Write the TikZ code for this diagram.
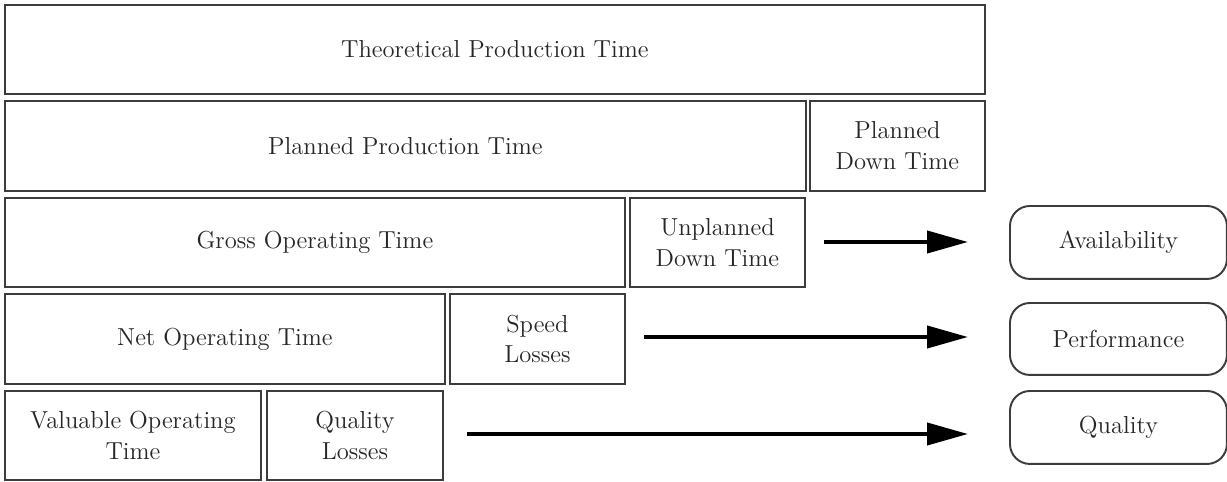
\documentclass[tikz,border=0pt]{standalone}
\usepackage{tikz}
\usetikzlibrary{positioning,arrows.meta}
\definecolor{Frame}{HTML}{3C3C3C}
\definecolor{Ink}{HTML}{262626}

\tikzset{
  timebox/.style={draw=Frame,line width=1.1pt,anchor=north west,align=center,text=Ink,
    inner sep=0pt,font=\fontsize{14}{17.6}\selectfont},
  ratebox/.style={timebox,rounded corners=0.4cm},
  lossarrow/.style={black,line width=2.3pt,-{Triangle[length=0.82cm,width=0.44cm]},shorten >=0.82cm}
}

\begin{document}
\begin{tikzpicture}[x=0.02cm,y=-0.02cm]
        \useasboundingbox (0,0) rectangle (1227,481);
        \node[timebox,minimum width=19.6cm,minimum height=1.78cm] (theo) at (4,4) {Theoretical Production Time};
        \node[timebox,minimum width=16.02cm,minimum height=1.8cm] (planned) at (4,100) {Planned Production Time};
        \node[timebox,minimum width=3.5cm,minimum height=1.8cm] (planneddown) at (809,100) {Planned\\Down Time};
        \node[timebox,minimum width=12.4cm,minimum height=1.78cm] (gross) at (4,197) {Gross Operating Time};
        \node[timebox,minimum width=3.5cm,minimum height=1.78cm] (unplanned) at (629,197) {Unplanned\\Down Time};
        \node[timebox,minimum width=8.8cm,minimum height=1.8cm] (net) at (4,293) {Net Operating Time};
        \node[timebox,minimum width=3.5cm,minimum height=1.8cm] (speed) at (449,293) {Speed\\Losses};
        \node[timebox,minimum width=5.12cm,minimum height=1.78cm] (valuable) at (4,390) {Valuable Operating\\Time};
        \node[timebox,minimum width=3.52cm,minimum height=1.78cm] (qualityloss) at (266,390) {Quality\\Losses};
        \node[ratebox,minimum width=4.34cm,minimum height=1.46cm] (avail) at (1009,205) {Availability};
        \node[ratebox,minimum width=4.34cm,minimum height=1.44cm] (perf) at (1009,302) {Performance};
        \node[ratebox,minimum width=4.34cm,minimum height=1.46cm] (qual) at (1009,390) {Quality};
        \coordinate (a1) at (824,242);
        \coordinate (a2) at (644,337);
        \coordinate (a3) at (467,434);
        \draw[lossarrow] (a1) -- (a1 -| avail.west);
        \draw[lossarrow] (a2) -- (a2 -| perf.west);
        \draw[lossarrow] (a3) -- (a3 -| qual.west);
      \end{tikzpicture}
\end{document}
